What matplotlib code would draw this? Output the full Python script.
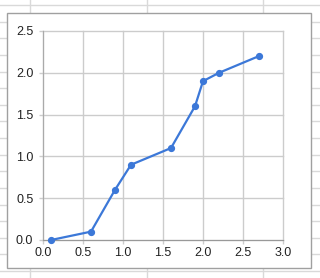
import matplotlib
matplotlib.use("Agg")
import matplotlib.pyplot as plt
from matplotlib.patches import Rectangle
from matplotlib.lines import Line2D

x_values = [0.1, 0.6, 0.9, 1.1, 1.6, 1.9, 2.0, 2.2, 2.7]
y_values = [0.0, 0.1, 0.6, 0.9, 1.1, 1.6, 1.9, 2.0, 2.2]
x_ticks = [0.0, 0.5, 1.0, 1.5, 2.0, 2.5, 3.0]
y_ticks = [0.0, 0.5, 1.0, 1.5, 2.0, 2.5]

W, H = 320, 278
plt.rcParams['font.family'] = ['Liberation Sans', 'DejaVu Sans']
fig = plt.figure(figsize=(W / 100, H / 100), dpi=100)
fig.patch.set_facecolor('white')

def fx(px):
    return px / W

def fy(py):
    return 1 - py / H

# spreadsheet cell grid in the background
sheet_col = '#d9d9d9'
for k in range(17):
    yy = 5 + 16.625 * k
    fig.add_artist(Line2D([0, 1], [fy(yy), fy(yy)], color=sheet_col, lw=1, zorder=0))
for xx in [30, 147, 263]:
    fig.add_artist(Line2D([fx(xx), fx(xx)], [0, 1], color=sheet_col, lw=1, zorder=0))

# chart box
fig.add_artist(Rectangle((fx(7), fy(267.5)), fx(310.5) - fx(7), fy(13) - fy(267.5),
                         facecolor='white', edgecolor='#a0a0a0', lw=1, zorder=1))

ax = fig.add_axes([fx(43), fy(240), fx(283) - fx(43), fy(31) - fy(240)], zorder=2)
ax.set_facecolor('white')
ax.plot(x_values, y_values, color='#3c78d8', lw=1.6, marker='o', markersize=4.2,
        zorder=3, clip_on=False)
ax.set_xlim(0, 3.0)
ax.set_ylim(0, 2.5)
ax.set_xticks(x_ticks)
ax.set_yticks(y_ticks)
ax.set_xticklabels([f"{v:.1f}" for v in x_ticks])
ax.set_yticklabels([f"{v:.1f}" for v in y_ticks])
ax.grid(True, color='#cccccc', lw=1)
for gl in ax.get_xgridlines() + ax.get_ygridlines():
    gl.set_clip_on(False)
ax.set_axisbelow(True)
for s in ['top', 'right']:
    ax.spines[s].set_visible(False)
ax.spines['left'].set_color('#aaaaaa')
ax.spines['bottom'].set_color('#999999')
ax.tick_params(axis='both', colors='#cccccc', labelcolor='#222222', labelsize=9,
               length=3, width=1)
ax.tick_params(axis='y', pad=4)
ax.tick_params(axis='x', pad=2)

fig.savefig('out.png', dpi=100, facecolor='white')
